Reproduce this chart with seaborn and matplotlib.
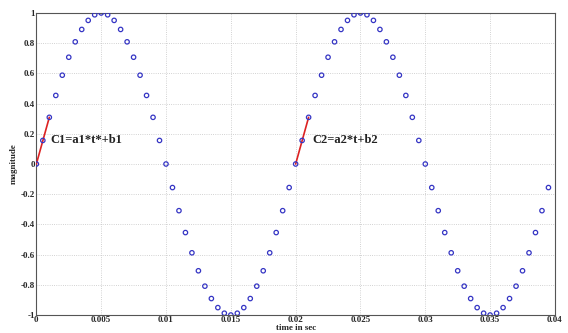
import numpy as np
import pandas as pd
import matplotlib
matplotlib.use("Agg")
import matplotlib.pyplot as plt
import seaborn as sns

time_s = [0.0, 0.0005, 0.001, 0.0015, 0.002, 0.0025, 0.003, 0.0035, 0.004, 0.0045,
          0.005, 0.0055, 0.006, 0.0065, 0.007, 0.0075, 0.008, 0.0085, 0.009, 0.0095,
          0.01, 0.0105, 0.011, 0.0115, 0.012, 0.0125, 0.013, 0.0135, 0.014, 0.0145,
          0.015, 0.0155, 0.016, 0.0165, 0.017, 0.0175, 0.018, 0.0185, 0.019, 0.0195,
          0.02, 0.0205, 0.021, 0.0215, 0.022, 0.0225, 0.023, 0.0235, 0.024, 0.0245,
          0.025, 0.0255, 0.026, 0.0265, 0.027, 0.0275, 0.028, 0.0285, 0.029, 0.0295,
          0.03, 0.0305, 0.031, 0.0315, 0.032, 0.0325, 0.033, 0.0335, 0.034, 0.0345,
          0.035, 0.0355, 0.036, 0.0365, 0.037, 0.0375, 0.038, 0.0385, 0.039, 0.0395]
magnitude = [0, 0.156, 0.309, 0.454, 0.588, 0.707, 0.809, 0.891, 0.951, 0.988,
             1.0, 0.988, 0.951, 0.891, 0.809, 0.707, 0.588, 0.454, 0.309, 0.156,
             0, -0.156, -0.309, -0.454, -0.588, -0.707, -0.809, -0.891, -0.951, -0.988,
             -1.0, -0.988, -0.951, -0.891, -0.809, -0.707, -0.588, -0.454, -0.309, -0.156,
             0, 0.156, 0.309, 0.454, 0.588, 0.707, 0.809, 0.891, 0.951, 0.988,
             1.0, 0.988, 0.951, 0.891, 0.809, 0.707, 0.588, 0.454, 0.309, 0.156,
             0, -0.156, -0.309, -0.454, -0.588, -0.707, -0.809, -0.891, -0.951, -0.988,
             -1.0, -0.988, -0.951, -0.891, -0.809, -0.707, -0.588, -0.454, -0.309, -0.156]

# linear pieces drawn in red
seg1_t = [0.0, 0.001]
seg1_y = [0.0, 0.309]
seg2_t = [0.02, 0.021]
seg2_y = [0.0, 0.309]
labels = ["C1=a1*t*+b1", "C2=a2*t+b2"]
label_pos = [(0.00105, 0.16), (0.0213, 0.16)]

xticks = [0, 0.005, 0.01, 0.015, 0.02, 0.025, 0.03, 0.035, 0.04]
xticklabels = ["0", "0.005", "0.01", "0.015", "0.02", "0.025", "0.03", "0.035", "0.04"]
yticks = [-1, -0.8, -0.6, -0.4, -0.2, 0, 0.2, 0.4, 0.6, 0.8, 1]
yticklabels = ["-1", "-0.8", "-0.6", "-0.4", "-0.2", "0", "0.2", "0.4", "0.6", "0.8", "1"]

sns.set_style("whitegrid", {"grid.linestyle": ":", "grid.color": "#c4c4c4",
                            "axes.edgecolor": "#555555"})
plt.rcParams['font.family'] = ['Liberation Serif', 'DejaVu Serif']

df = pd.DataFrame({"t": time_s, "y": magnitude})

fig = plt.figure(figsize=(5.68, 3.33), dpi=100)
ax = fig.add_axes([0.064, 0.054, 0.913, 0.907])

ax.plot(seg1_t, seg1_y, color="#dd2222", lw=1.2, zorder=3)
ax.plot(seg2_t, seg2_y, color="#dd2222", lw=1.2, zorder=3)
sns.scatterplot(data=df, x="t", y="y", ax=ax, marker="o", s=10,
                facecolors="none", edgecolor="#3535c4", linewidth=0.9, zorder=4)

for txt, (tx, ty) in zip(labels, label_pos):
    ax.text(tx, ty, txt, fontsize=9, fontweight="bold", va="center", color="#222222")

ax.set_xlim(0, 0.04)
ax.set_ylim(-1, 1)
ax.set_xticks(xticks)
ax.set_xticklabels(xticklabels)
ax.set_yticks(yticks)
ax.set_yticklabels(yticklabels)
ax.tick_params(labelsize=6.5, pad=1, length=0)
for lab in ax.get_xticklabels() + ax.get_yticklabels():
    lab.set_fontweight("bold")
ax.grid(True, linewidth=0.6)
ax.set_xlabel("time in sec", fontsize=6.5, fontweight="bold", labelpad=0)
ax.set_ylabel("magnitude", fontsize=6.5, fontweight="bold", labelpad=2)

fig.savefig("out.png", dpi=100)
